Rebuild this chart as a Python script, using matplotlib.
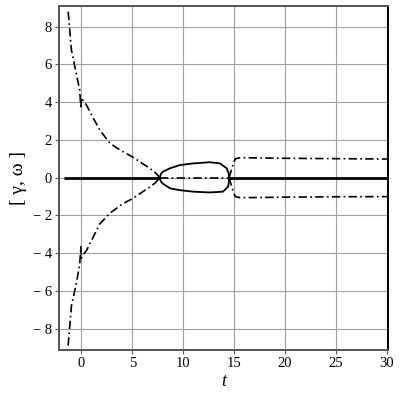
import matplotlib
matplotlib.use("Agg")
import matplotlib.pyplot as plt

# ---- data ----
# dash-dot curve (omega), early branches
t_w_early = [-1.3, -0.98, -0.5, -0.17, -0.05, 0.0, 0.08, 0.5, 1.0, 1.8, 2.8, 4.0, 5.0, 6.0, 6.7, 7.3, 7.7]
w_up_early = [8.8, 6.77, 5.5, 4.65, 3.65, 4.25, 4.15, 3.85, 3.32, 2.53, 1.82, 1.4, 1.11, 0.75, 0.5, 0.25, 0.0]
w_lo_early = [-8.9, -6.8, -5.6, -4.6, -3.65, -4.27, -4.15, -3.85, -3.32, -2.45, -1.88, -1.4, -1.11, -0.75, -0.5, -0.25, 0.0]
# dash-dot along zero
t_w_mid = [7.7, 14.5]
w_mid = [0.0, 0.0]
# dash-dot late branches
t_w_late = [14.5, 14.8, 15.1, 15.6, 20.0, 25.0, 30.0]
w_up_late = [0.0, 0.55, 1.0, 1.06, 1.03, 1.01, 0.99]
w_lo_late = [0.0, -0.55, -1.0, -1.06, -1.03, -1.01, -1.0]

# solid curve (gamma)
t_g_zero1 = [-1.7, 7.7]
g_zero1 = [0.0, 0.0]
t_g_zero2 = [14.5, 30.0]
g_zero2 = [0.0, 0.0]
t_loop_up = [7.7, 7.8, 8.0, 8.7, 9.67, 11.0, 12.6, 13.6, 14.26, 14.45, 14.5]
g_loop_up = [0.0, 0.2, 0.32, 0.5, 0.67, 0.76, 0.82, 0.76, 0.5, 0.25, 0.0]
t_loop_lo = [7.7, 7.8, 8.0, 8.7, 9.67, 11.0, 12.6, 13.9, 14.4, 14.48, 14.5]
g_loop_lo = [0.0, -0.2, -0.32, -0.56, -0.66, -0.74, -0.78, -0.74, -0.48, -0.2, 0.0]

x_ticks = [0, 5, 10, 15, 20, 25, 30]
x_ticklabels = ["0", "5", "10", "15", "20", "25", "30"]
y_ticks = [-8, -6, -4, -2, 0, 2, 4, 6, 8]
y_ticklabels = ["\u2212 8", "\u2212 6", "\u2212 4", "\u2212 2", "0", "2", "4", "6", "8"]

# ---- figure ----
fig = plt.figure(figsize=(4, 4), dpi=100)
ax = fig.add_axes([0.1475, 0.125, 0.8225, 0.86])

dd = dict(color="black", lw=1.2, dashes=[5, 2, 1, 2])
ax.plot(t_w_early, w_up_early, **dd)
ax.plot(t_w_early, w_lo_early, **dd)
ax.plot(t_w_mid, w_mid, **dd)
ax.plot(t_w_late, w_up_late, **dd)
ax.plot(t_w_late, w_lo_late, **dd)

ax.plot(t_g_zero1, g_zero1, color="black", lw=2.0, solid_capstyle="butt")
ax.plot(t_g_zero2, g_zero2, color="black", lw=2.0, solid_capstyle="butt")
ax.plot(t_loop_up, g_loop_up, color="black", lw=1.3)
ax.plot(t_loop_lo, g_loop_lo, color="black", lw=1.3)

ax.set_xlim(-2.2, 30.1)
ax.set_ylim(-9.13, 9.1)
ax.set_xticks(x_ticks)
ax.set_xticklabels(x_ticklabels)
ax.set_yticks(y_ticks)
ax.set_yticklabels(y_ticklabels)

ax.grid(True, color="#a0a0a0", lw=0.8)
ax.set_axisbelow(True)
for s in ax.spines.values():
    s.set_color("#555555")
    s.set_linewidth(1.4)
ax.spines["right"].set_color("black")

ax.tick_params(direction="out", length=3, width=0.8, color="#555555",
               labelsize=10.5, pad=2)
for lab in ax.get_xticklabels() + ax.get_yticklabels():
    lab.set_family("Liberation Serif")

ax.set_xlabel("t", fontsize=13, fontstyle="italic", family="Liberation Serif", labelpad=2)
ax.set_ylabel("[ \u03b3, \u03c9 ]", fontsize=14, family="Liberation Serif", labelpad=4)

fig.savefig("out.png", dpi=100)
